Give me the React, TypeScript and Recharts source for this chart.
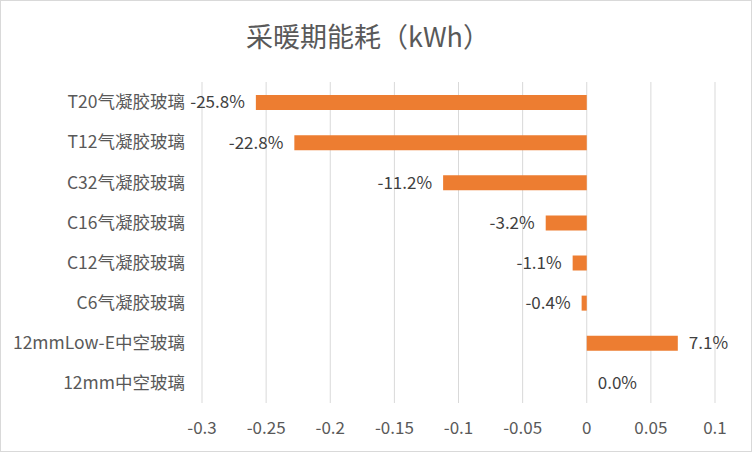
import { BarChart, Bar, XAxis, YAxis, CartesianGrid, LabelList } from "recharts";

const categories = [
  "T20气凝胶玻璃",
  "T12气凝胶玻璃",
  "C32气凝胶玻璃",
  "C16气凝胶玻璃",
  "C12气凝胶玻璃",
  "C6气凝胶玻璃",
  "12mmLow-E中空玻璃",
  "12mm中空玻璃",
];

const changes = [-0.258, -0.228, -0.112, -0.032, -0.011, -0.004, 0.071, 0.0];

const xTicks = [-0.3, -0.25, -0.2, -0.15, -0.1, -0.05, 0, 0.05, 0.1];

const data = categories.map((name, i) => ({ name, value: changes[i] }));

const FONT = '"Noto Sans CJK SC", "Noto Sans", sans-serif';

// 数据标签：负值放在条形左端，正值和零放在右端
function PctLabel(props: any) {
  const { x, y, width, height, value } = props;
  const v = Number(value);
  const left = v < 0;
  const w = v === 0 ? 0 : Number(width);
  const px = left ? Number(x) + Math.min(0, w) - 11 : Number(x) + Math.max(0, w) + 11;
  return (
    <text
      x={px}
      y={Number(y) + Number(height) / 2}
      dy="0.35em"
      textAnchor={left ? "end" : "start"}
      fill="#404040"
      fontSize={17}
      fontFamily={FONT}
    >
      {(v * 100).toFixed(1) + "%"}
    </text>
  );
}

export default function App() {
  return (
    <div
      style={{
        position: "fixed",
        left: 0,
        top: 0,
        width: 752,
        height: 452,
        boxSizing: "border-box",
        border: "1px solid #d9d9d9",
        background: "#fff",
        fontFamily: FONT,
      }}
    >
      {/* 标题 */}
      <div
        style={{
          position: "absolute",
          left: 0,
          top: 15,
          width: 734,
          textAlign: "center",
          fontSize: 27,
          color: "#595959",
        }}
      >
        采暖期能耗（kWh）
      </div>
      <div style={{ position: "absolute", left: -1, top: -1 }}>
        <BarChart
          width={752}
          height={452}
          data={data}
          layout="vertical"
          margin={{ top: 82, right: 37, left: 0, bottom: 0 }}
        >
          <CartesianGrid horizontal={false} stroke="#d9d9d9" />
          <XAxis
            type="number"
            domain={[-0.3, 0.1]}
            ticks={xTicks}
            tickFormatter={(v) => String(v)}
            axisLine={false}
            tickLine={false}
            tickMargin={13}
            height={49}
            tick={{ fill: "#595959", fontSize: 17, fontFamily: FONT }}
          />
          <YAxis
            type="category"
            dataKey="name"
            width={202}
            axisLine={false}
            tickLine={false}
            tickMargin={11}
            tick={{ fill: "#595959", fontSize: 17.5, fontFamily: FONT }}
          />
          <Bar
            dataKey="value"
            fill="#ed7d31"
            barSize={15}
            minPointSize={(v: any) => (Number(v) === 0 ? 0.01 : 0)}
            isAnimationActive={false}
          >
            <LabelList dataKey="value" content={PctLabel} />
          </Bar>
        </BarChart>
      </div>
    </div>
  );
}
